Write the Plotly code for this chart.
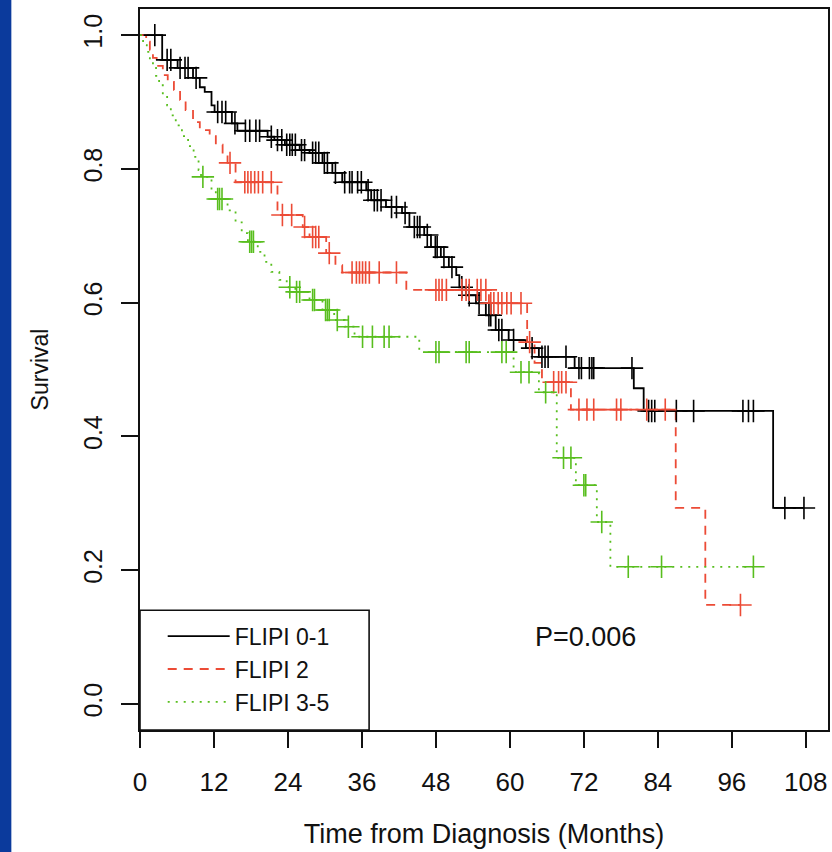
import plotly.graph_objects as go

# ---------------- data ----------------
# FLIPI 0-1 (black): step times (months) and survival after the step
flipi01_t = [3.6, 6.1, 8.6, 9.7, 10.5, 11.6, 12.1, 14.9, 15.8, 20.7, 21.8, 23.5, 25.9, 27.5,
             29.6, 31.2, 32.8, 36.7, 37.5, 39.9, 42.5, 43.7, 46.1, 47.2, 48.8, 50.1, 51.3,
             51.8, 52.9, 54.5, 56.1, 57.7, 59.8, 62.6, 64.7, 70.5, 80.1, 81.7, 102.7]
flipi01_s = [0.963, 0.951, 0.936, 0.922, 0.915, 0.895, 0.885, 0.868, 0.857, 0.848, 0.843,
             0.836, 0.828, 0.824, 0.809, 0.794, 0.780, 0.768, 0.753, 0.743, 0.734, 0.713,
             0.701, 0.683, 0.668, 0.653, 0.641, 0.623, 0.611, 0.599, 0.581, 0.559, 0.544,
             0.532, 0.519, 0.502, 0.472, 0.438, 0.293]
flipi01_cens = [2.4, 4.4, 5.0, 6.5, 7.3, 7.8, 9.1, 12.6, 13.3, 13.9, 15.4, 17.1, 17.8, 18.8,
                19.4, 21.3, 22.3, 23.0, 23.8, 24.3, 24.7, 25.2, 26.2, 26.7, 28.0, 28.5, 29.0,
                29.9, 30.4, 31.7, 33.2, 34.0, 34.4, 35.3, 35.9, 37.0, 38.0, 38.5, 39.1, 40.8,
                41.6, 43.0, 44.5, 45.0, 45.4, 46.6, 47.9, 48.2, 49.3, 50.6, 52.2, 53.4, 55.0,
                56.6, 56.9, 58.2, 58.7, 60.6, 63.6, 65.2, 65.7, 66.2, 69.1, 71.2, 71.6, 72.9,
                73.3, 73.6, 79.8, 82.5, 83.0, 83.5, 87.0, 89.8, 97.8, 98.7, 99.5, 104.6, 107.7]

# FLIPI 2 (red)
flipi2_t = [1.0, 1.6, 2.1, 2.7, 3.7, 4.5, 5.5, 6.5, 7.4, 8.6, 9.7, 11.3, 12.3, 13.4, 14.2,
            15.5, 22.3, 26.4, 27.5, 30.2, 31.7, 32.8, 43.2, 56.6, 62.8, 64.0, 65.2, 69.9,
            86.9, 91.7]
flipi2_s = [0.990, 0.978, 0.966, 0.954, 0.940, 0.930, 0.918, 0.903, 0.888, 0.870, 0.858,
            0.849, 0.836, 0.821, 0.809, 0.780, 0.731, 0.713, 0.698, 0.674, 0.656, 0.645,
            0.619, 0.599, 0.541, 0.510, 0.481, 0.440, 0.293, 0.148]
flipi2_cens = [14.6, 17.0, 17.5, 18.0, 18.6, 19.2, 19.9, 21.3, 23.1, 24.6, 26.7, 28.0, 28.5,
               29.0, 30.7, 34.4, 35.1, 35.6, 36.1, 36.6, 37.2, 38.8, 41.6, 48.0, 48.5, 49.0,
               49.7, 52.2, 52.9, 53.4, 54.7, 55.3, 56.1, 56.9, 57.4, 58.1, 58.7, 59.5, 60.2,
               61.8, 63.2, 67.1, 67.9, 68.4, 69.1, 71.2, 72.5, 73.6, 77.3, 78.0, 82.2, 85.2,
               97.4]

# FLIPI 3-5 (green)
flipi35_t = [0.5, 1.1, 1.6, 2.1, 2.6, 3.1, 3.7, 4.4, 5.0, 5.8, 6.8, 7.8, 8.7, 9.5, 9.9,
             11.6, 12.3, 14.2, 15.5, 16.5, 17.5, 19.1, 20.2, 21.3, 22.6, 23.8, 25.2, 27.5,
             29.6, 31.5, 33.2, 34.8, 45.3, 60.6, 64.7, 67.6, 70.7, 74.1, 76.3]
flipi35_s = [0.985, 0.975, 0.963, 0.951, 0.939, 0.925, 0.910, 0.895, 0.880, 0.865, 0.849,
             0.834, 0.818, 0.798, 0.788, 0.768, 0.755, 0.738, 0.720, 0.704, 0.691, 0.676,
             0.661, 0.646, 0.634, 0.623, 0.616, 0.604, 0.589, 0.574, 0.564, 0.549, 0.526,
             0.496, 0.466, 0.368, 0.327, 0.272, 0.205]
flipi35_cens = [10.2, 12.6, 12.9, 13.3, 17.8, 18.1, 18.4, 24.3, 25.4, 25.9, 28.0, 28.3, 30.1,
                30.4, 30.7, 32.0, 33.8, 36.1, 37.7, 39.6, 40.4, 48.0, 48.5, 52.9, 53.4, 58.7,
                59.4, 61.8, 63.1, 65.8, 68.7, 69.9, 72.0, 72.3, 74.9, 79.2, 84.6, 99.5]

x_ticks = [0, 12, 24, 36, 48, 60, 72, 84, 96, 108]
y_ticks = [0.0, 0.2, 0.4, 0.6, 0.8, 1.0]
p_text = "P=0.006"

series = [
    ("FLIPI 0-1", flipi01_t, flipi01_s, flipi01_cens, "#000000", "solid"),
    ("FLIPI 2", flipi2_t, flipi2_s, flipi2_cens, "#EC4B36", "9px,7px"),
    ("FLIPI 3-5", flipi35_t, flipi35_s, flipi35_cens, "#58BE1E", "2px,6px"),
]

FONT = "Liberation Sans, Arial, Helvetica, sans-serif"


def surv_at(t, times, surv):
    s = 1.0
    for ti, si in zip(times, surv):
        if ti <= t:
            s = si
    return s


fig = go.Figure()
for name, t, s, cens, color, dash in series:
    end_t = max(cens[-1], t[-1])
    xs = [0] + t + [end_t]
    ys = [1.0] + s + [s[-1]]
    fig.add_trace(go.Scatter(x=xs, y=ys, mode="lines", name=name,
                             line=dict(color=color, width=1.8, dash=dash, shape="hv")))
for name, t, s, cens, color, dash in series:
    fig.add_trace(go.Scatter(x=cens, y=[surv_at(c, t, s) for c in cens], mode="markers",
                             showlegend=False, hoverinfo="skip",
                             marker=dict(symbol="cross-thin", size=16,
                                         line=dict(color=color, width=1.6))))

fig.add_annotation(x=72.3, y=0.10, text=p_text, showarrow=False,
                   font=dict(size=27, color="#111111", family=FONT))

# legend box and blue left strip
fig.add_shape(type="rect", xref="paper", yref="paper", x0=0, x1=0.333, y0=0, y1=0.166,
              line=dict(color="#111111", width=1.6), fillcolor="white", layer="above")
fig.add_shape(type="rect", xref="paper", yref="paper", x0=-0.25, x1=-0.187, y0=-0.3, y1=1.1,
              line=dict(width=0), fillcolor="#0B3A9C", layer="below")

fig.update_layout(
    width=832, height=852,
    margin=dict(l=140, r=2, t=9, b=122, pad=0),
    paper_bgcolor="white", plot_bgcolor="white",
    font=dict(family=FONT, size=25, color="#111111"),
    showlegend=True,
    legend=dict(x=0.033, y=0.160, xanchor="left", yanchor="top",
                bgcolor="rgba(0,0,0,0)", borderwidth=0, itemwidth=62,
                font=dict(size=23, family=FONT, color="#111111"), tracegroupgap=0),
)
fig.update_xaxes(range=[0, 111.6], tickvals=x_ticks, ticks="outside", ticklen=16,
                 tickwidth=1.6, tickcolor="#111111", showline=True, linecolor="#111111",
                 linewidth=1.6, mirror=True, showgrid=False, zeroline=False,
                 ticklabelstandoff=12, tickfont=dict(size=26),
                 title=dict(text="Time from Diagnosis (Months)", standoff=28,
                            font=dict(size=27)))
fig.update_yaxes(range=[-0.039, 1.039], tickvals=y_ticks, tickformat=".1f", ticks="outside",
                 ticklen=17, tickwidth=1.6, tickcolor="#111111", showline=True,
                 linecolor="#111111", linewidth=1.6, mirror=True, showgrid=False,
                 zeroline=False, tickangle=-90, ticklabelstandoff=9,
                 title=dict(text="Survival", standoff=24, font=dict(size=23)))

fig.write_html("out.html", post_script="document.body.style.margin='0';",
               config={"displayModeBar": False})
